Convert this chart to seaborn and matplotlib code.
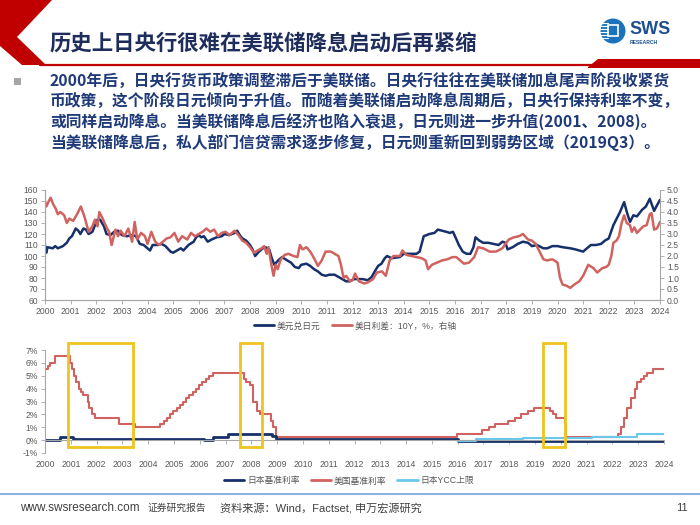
import matplotlib
matplotlib.use("Agg")
import matplotlib.pyplot as plt
import seaborn as sns
import pandas as pd
from matplotlib.patches import Polygon, Rectangle, Circle
from matplotlib.lines import Line2D
from matplotlib.ticker import FuncFormatter

sns.set_theme(style="white")
plt.rcParams['font.family'] = ['Liberation Sans', 'Noto Sans CJK SC', 'DejaVu Sans']

# ---- data: USD/JPY (left axis) ----
usd_year = [2000.0, 2000.05, 2000.1, 2000.3, 2000.4, 2000.5, 2000.7, 2000.85, 2000.95, 2001.05,
            2001.2, 2001.3, 2001.38, 2001.5, 2001.6, 2001.7, 2001.85, 2001.95, 2002.05, 2002.15,
            2002.3, 2002.4, 2002.55, 2002.7, 2002.85, 2003.0, 2003.2, 2003.4, 2003.55, 2003.7,
            2003.85, 2004.0, 2004.1, 2004.2, 2004.4, 2004.55, 2004.7, 2004.9, 2005.0, 2005.15,
            2005.3, 2005.4, 2005.6, 2005.8, 2005.9, 2006.0, 2006.1, 2006.2, 2006.35, 2006.5,
            2006.7, 2006.9, 2007.0, 2007.2, 2007.4, 2007.5, 2007.6, 2007.7, 2007.85, 2008.0,
            2008.1, 2008.2, 2008.35, 2008.5, 2008.6, 2008.75, 2008.85, 2008.95, 2009.1, 2009.25,
            2009.45, 2009.6, 2009.75, 2009.9, 2010.0, 2010.2, 2010.35, 2010.5, 2010.65, 2010.8,
            2010.95, 2011.1, 2011.3, 2011.45, 2011.6, 2011.75, 2011.9, 2012.05, 2012.4, 2012.6,
            2012.75, 2012.87, 2013.0, 2013.13, 2013.26, 2013.35, 2013.52, 2013.84, 2014.0, 2014.3,
            2014.5, 2014.62, 2014.69, 2014.78, 2015.0, 2015.2, 2015.33, 2015.66, 2015.8, 2015.92,
            2016.0, 2016.15, 2016.3, 2016.45, 2016.6, 2016.72, 2016.8, 2016.95, 2017.1, 2017.3,
            2017.5, 2017.7, 2017.85, 2017.97, 2018.05, 2018.25, 2018.45, 2018.65, 2018.85, 2019.0,
            2019.2, 2019.45, 2019.6, 2019.8, 2020.0, 2020.2, 2020.5, 2020.7, 2020.85, 2021.0,
            2021.15, 2021.3, 2021.5, 2021.7, 2021.85, 2022.0, 2022.18, 2022.31, 2022.44, 2022.6,
            2022.73, 2022.83, 2022.96, 2023.1, 2023.3, 2023.45, 2023.6, 2023.77, 2023.88, 2024.0]
usdjpy = [110, 103, 108, 107, 109, 107, 109, 112, 116, 118,
          125, 123, 120, 125, 124, 120, 122, 128, 133, 133,
          127, 120, 119, 122, 123, 119, 118, 119, 118, 111,
          110, 107, 105, 110, 110, 111, 109, 104, 103, 105,
          107, 105, 110, 113, 117, 119, 117, 118, 113, 115,
          117, 118, 120, 119, 121, 123, 119, 116, 114, 110,
          106, 100, 104, 107, 108, 106, 98, 92, 96, 99,
          96, 94, 90, 89, 92, 93, 91, 88, 86, 83,
          82, 83, 83, 81, 79, 77, 77, 79, 79, 78,
          81, 86, 91, 93, 98, 100, 98, 99, 102, 102,
          102, 104, 110, 118, 120, 121, 124, 122, 121, 122,
          118, 110, 104, 102, 102, 108, 117, 114, 112, 112,
          111, 110, 113, 112, 106, 108, 111, 113, 112, 109,
          110, 107, 107, 109, 109, 108, 107, 106, 105, 104,
          107, 110, 110, 111, 114, 116, 128, 134, 140, 149,
          138, 131, 137, 136, 142, 145, 152, 141, 146, 151]

# ---- data: US-Japan 10Y spread, % (right axis) ----
spread_year = [2000.0, 2000.05, 2000.15, 2000.22, 2000.32, 2000.42, 2000.5, 2000.6, 2000.75, 2000.85,
               2000.95, 2001.1, 2001.25, 2001.4, 2001.55, 2001.7, 2001.85, 2001.95, 2002.05, 2002.12,
               2002.25, 2002.4, 2002.5, 2002.6, 2002.75, 2002.85, 2002.95, 2003.1, 2003.25, 2003.4,
               2003.5, 2003.6, 2003.75, 2003.9, 2004.0, 2004.15, 2004.3, 2004.45, 2004.6, 2004.75,
               2004.9, 2005.05, 2005.2, 2005.35, 2005.55, 2005.7, 2005.85, 2006.0, 2006.15, 2006.3,
               2006.45, 2006.6, 2006.75, 2006.9, 2007.05, 2007.2, 2007.4, 2007.55, 2007.7, 2007.85,
               2008.0, 2008.15, 2008.3, 2008.45, 2008.55, 2008.65, 2008.72, 2008.85, 2008.92, 2009.0,
               2009.08, 2009.2, 2009.35, 2009.5, 2009.7, 2009.85, 2009.95, 2010.05, 2010.2, 2010.35,
               2010.5, 2010.65, 2010.8, 2010.95, 2011.15, 2011.3, 2011.45, 2011.55, 2011.65, 2011.75,
               2011.9, 2012.0, 2012.1, 2012.25, 2012.45, 2012.6, 2012.8, 2012.95, 2013.15, 2013.3,
               2013.45, 2013.6, 2013.85, 2013.95, 2014.1, 2014.3, 2014.5, 2014.7, 2014.85, 2014.95,
               2015.1, 2015.3, 2015.5, 2015.7, 2015.9, 2016.05, 2016.2, 2016.35, 2016.55, 2016.75,
               2016.9, 2017.1, 2017.35, 2017.6, 2017.85, 2018.0, 2018.1, 2018.3, 2018.5, 2018.65,
               2018.85, 2019.0, 2019.15, 2019.3, 2019.45, 2019.6, 2019.8, 2020.0, 2020.1, 2020.2,
               2020.35, 2020.5, 2020.65, 2020.85, 2021.0, 2021.2, 2021.4, 2021.55, 2021.75, 2021.9,
               2022.0, 2022.1, 2022.18, 2022.3, 2022.4, 2022.5, 2022.6, 2022.7, 2022.83, 2022.9,
               2023.0, 2023.1, 2023.22, 2023.35, 2023.48, 2023.6, 2023.67, 2023.77, 2023.88, 2024.0]
spread = [4.5, 4.25, 4.5, 4.65, 4.35, 4.15, 3.9, 4.0, 3.85, 3.5,
          3.7, 3.6, 3.9, 4.25, 3.75, 3.1, 3.35, 3.65, 3.35, 4.0,
          3.7, 3.3, 3.1, 2.5, 3.2, 2.9, 3.15, 2.9, 3.25, 2.65,
          3.55, 2.75, 3.05, 2.9, 2.55, 3.1, 2.65, 2.5, 2.65, 2.8,
          2.85, 3.05, 2.65, 2.9, 2.75, 3.05, 2.9, 3.0, 3.1, 3.25,
          3.1, 3.2, 2.9, 3.05, 3.1, 2.95, 3.15, 2.95, 2.7, 2.6,
          2.4, 2.15, 2.25, 2.35, 2.45, 2.1, 2.4, 1.5, 1.1, 1.6,
          1.4, 1.85, 2.05, 2.1, 2.0, 1.95, 2.5, 2.3, 2.4, 2.2,
          1.9, 1.55, 1.8, 2.2, 2.2, 2.1, 2.0, 1.6, 1.0, 1.1,
          0.85, 0.9, 1.2, 0.85, 0.75, 0.8, 0.95, 1.25, 1.3, 1.1,
          1.8, 2.0, 2.0, 2.25, 2.05, 2.0, 1.95, 1.9, 1.8, 1.4,
          1.6, 1.7, 1.8, 1.85, 1.95, 1.95, 1.8, 1.65, 1.7, 1.95,
          2.4, 2.35, 2.2, 2.2, 2.35, 2.6, 2.75, 2.85, 2.9, 3.0,
          2.75, 2.7, 2.55, 2.2, 1.85, 1.8, 1.85, 1.7, 1.0, 0.7,
          0.65, 0.55, 0.7, 0.85, 1.1, 1.6, 1.45, 1.25, 1.45, 1.5,
          1.6, 2.0, 2.6, 2.7, 2.9, 3.5, 3.85, 3.5, 3.4, 3.1,
          3.3, 3.05, 3.2, 3.35, 3.4, 3.9, 3.95, 3.2, 3.25, 3.55]

# ---- data: policy rates, % (step series) ----
us_rate_year = [2000.0, 2000.1, 2000.2, 2000.38, 2000.97, 2001.05, 2001.12, 2001.22, 2001.3, 2001.38,
                2001.48, 2001.65, 2001.72, 2001.83, 2001.93, 2002.87, 2003.48, 2004.47, 2004.6, 2004.72,
                2004.85, 2004.97, 2005.1, 2005.22, 2005.35, 2005.48, 2005.6, 2005.72, 2005.85, 2005.98,
                2006.1, 2006.23, 2006.36, 2006.5, 2007.7, 2007.8, 2007.93, 2008.05, 2008.08, 2008.22,
                2008.33, 2008.77, 2008.83, 2008.95, 2015.96, 2016.95, 2017.2, 2017.45, 2017.95, 2018.22,
                2018.45, 2018.72, 2018.97, 2019.58, 2019.7, 2019.83, 2020.17, 2020.21, 2022.21, 2022.35,
                2022.46, 2022.57, 2022.72, 2022.87, 2022.95, 2023.1, 2023.22, 2023.35, 2023.57, 2024.0]
us_rate = [5.5, 5.75, 6.0, 6.5, 6.0, 5.5, 5.0, 4.5, 4.0, 3.75,
           3.5, 3.0, 2.5, 2.0, 1.75, 1.25, 1.0, 1.25, 1.5, 1.75,
           2.0, 2.25, 2.5, 2.75, 3.0, 3.25, 3.5, 3.75, 4.0, 4.25,
           4.5, 4.75, 5.0, 5.25, 4.75, 4.5, 4.25, 3.5, 3.0, 2.25,
           2.0, 1.5, 1.0, 0.25, 0.5, 0.75, 1.0, 1.25, 1.5, 1.75,
           2.0, 2.25, 2.5, 2.25, 2.0, 1.75, 1.25, 0.25, 0.5, 1.0,
           1.75, 2.5, 3.25, 4.0, 4.5, 4.75, 5.0, 5.25, 5.5, 5.5]

jp_rate_year = [2000.0, 2000.6, 2001.1, 2006.15, 2006.5, 2007.1, 2008.8, 2008.95, 2016.0, 2024.0]
jp_rate = [0.0, 0.25, 0.12, 0.0, 0.25, 0.5, 0.3, 0.1, -0.1, -0.1]

ycc_year = [2016.0, 2016.7, 2018.55, 2021.2, 2022.95, 2024.0]
ycc_cap = [-0.05, 0.05, 0.2, 0.25, 0.5, 0.5]

# Fed-cut windows highlighted in yellow (start, end)
highlight_periods = [(2000.88, 2003.4), (2007.56, 2008.41), (2019.31, 2020.16)]

title = "历史上日央行很难在美联储降息启动后再紧缩"
body_lines = [
    "2000年后，日央行货币政策调整滞后于美联储。日央行往往在美联储加息尾声阶段收紧货",
    "币政策，这个阶段日元倾向于升值。而随着美联储启动降息周期后，日央行保持利率不变，",
    "或同样启动降息。当美联储降息后经济也陷入衰退，日元则进一步升值(2001、2008)。",
    "当美联储降息后，私人部门信贷需求逐步修复，日元则重新回到弱势区域（2019Q3）。",
]
years = list(range(2000, 2025))

NAVY = '#15306A'
RED = '#D0625F'
LIGHT_BLUE = '#6CC8EA'
YELLOW = '#EEC41E'
GRAY = '#595959'
AXIS = '#A6A6A6'
TEXT_BLUE = '#1F3A78'
CJK = ['Noto Sans CJK SC', 'DejaVu Sans']

fig = plt.figure(figsize=(7, 5.25), dpi=100)

# background layer in pixel coordinates
bg = fig.add_axes([0, 0, 1, 1], zorder=-1)
bg.set_xlim(0, 700)
bg.set_ylim(525, 0)
bg.axis('off')

# header decoration
bg.add_patch(Polygon([(0, 0), (52, 0), (17, 37), (46, 65), (22, 65), (0, 46)], closed=True,
                     fc='#C00000', ec='none'))
bg.plot([40, 592], [65, 65], color='#C00000', lw=1.6)
bg.add_patch(Polygon([(588, 67), (598, 59), (700, 59), (700, 68), (588, 68)], closed=True,
                     fc='#C00000', ec='none'))
bg.text(50, 43, title, fontsize=15.4, weight='bold', color='#1F2D5C', family=CJK, va='center')

# logo
bg.add_patch(Circle((613, 31), 12.5, fc='#1B74BB', ec='none'))
for yy in [23, 26, 29, 32, 35, 38]:
    bg.plot([600, 608], [yy, yy], color='white', lw=0.8)
bg.add_patch(Rectangle((608, 25), 10, 11, fc='none', ec='white', lw=1.2))
bg.text(629, 30, "SWS", fontsize=13, weight='bold', color='#1D4F91', va='center',
        family=['Liberation Sans'])
bg.text(630, 43, "RESEARCH", fontsize=3.6, weight='bold', color='#1D4F91', va='center',
        family=['Liberation Sans'])

# bullet text
bg.add_patch(Rectangle((14, 78), 7, 7, fc='#A6A6A6', ec='none'))
for i, line in enumerate(body_lines):
    bg.text(50, 82 + i * 20.3, line, fontsize=11.35, weight='bold', color=TEXT_BLUE,
            family=CJK, va='center')

# footer
bg.plot([0, 700], [494, 494], color='#8DB3E2', lw=1.5)
bg.text(20, 508, "www.swsresearch.com", fontsize=8.5, color='#404040', va='center')
bg.text(148, 508, "证券研究报告", fontsize=7, color='#404040', va='center', family=CJK)
bg.text(220, 508, "资料来源：Wind，Factset, 申万宏源研究", fontsize=8, color='#404040',
        va='center', family=['Liberation Sans', 'Noto Sans CJK SC'])
bg.text(676, 508, "11", fontsize=8, color='#404040', va='center')

# ---- top chart ----
ax1 = fig.add_axes([45 / 700, 1 - 300 / 525, 615 / 700, 110 / 525])
usd_df = pd.DataFrame({'year': usd_year, 'value': usdjpy})
sns.lineplot(data=usd_df, x='year', y='value', ax=ax1, color=NAVY, lw=1.8)
ax1.set_xlim(2000, 2024)
ax1.set_ylim(60, 160)
ax1.set_yticks(range(60, 161, 10))
ax1.set_xticks(years)
ax1.set_xlabel('')
ax1.set_ylabel('')

ax1r = ax1.twinx()
spread_df = pd.DataFrame({'year': spread_year, 'value': spread})
sns.lineplot(data=spread_df, x='year', y='value', ax=ax1r, color=RED, lw=1.8)
ax1r.set_ylim(0, 5)
ax1r.set_yticks([x / 2 for x in range(11)])
ax1r.yaxis.set_major_formatter(FuncFormatter(lambda v, p: f"{v:.1f}"))
ax1r.set_ylabel('')
ax1r.set_xlim(2000, 2024)

for a in (ax1, ax1r):
    for s in a.spines.values():
        s.set_color(AXIS)
        s.set_linewidth(0.8)
    a.spines['top'].set_visible(False)
    a.tick_params(axis='both', length=3, width=0.6, color=AXIS, labelsize=6.2,
                  labelcolor=GRAY, pad=2)
ax1.spines['right'].set_visible(False)
ax1.tick_params(bottom=True, left=True)
ax1r.tick_params(right=True)

top_handles = [Line2D([], [], color=NAVY, lw=2), Line2D([], [], color=RED, lw=2)]
fig.legend(top_handles, ['美元兑日元', '美日利差：10Y，%，右轴'], loc='center',
           bbox_to_anchor=(355 / 700, 1 - 326 / 525), ncol=2, frameon=False, fontsize=6.3,
           handlelength=2.3, columnspacing=1.3, handletextpad=0.3, labelcolor=GRAY)

# ---- bottom chart ----
ax2 = fig.add_axes([45 / 700, 1 - 453 / 525, 619 / 700, 103 / 525])
us_df = pd.DataFrame({'year': us_rate_year, 'rate': us_rate})
jp_df = pd.DataFrame({'year': jp_rate_year, 'rate': jp_rate})
ycc_df = pd.DataFrame({'year': ycc_year, 'rate': ycc_cap})
sns.lineplot(data=us_df, x='year', y='rate', ax=ax2, color=RED, lw=1.5, drawstyle='steps-post')
sns.lineplot(data=jp_df, x='year', y='rate', ax=ax2, color=NAVY, lw=2.0, drawstyle='steps-post')
sns.lineplot(data=ycc_df, x='year', y='rate', ax=ax2, color=LIGHT_BLUE, lw=1.5,
             drawstyle='steps-post')
ax2.set_xlim(2000, 2024)
ax2.set_ylim(-1, 7)
ax2.set_yticks(range(-1, 8))
ax2.yaxis.set_major_formatter(FuncFormatter(lambda v, p: f"{v:.0f}%"))
ax2.set_xticks(years)
ax2.set_xlabel('')
ax2.set_ylabel('')
ax2.spines['bottom'].set_position(('data', 0))
ax2.spines['top'].set_visible(False)
ax2.spines['right'].set_visible(False)
for s in ('left', 'bottom'):
    ax2.spines[s].set_color(AXIS)
    ax2.spines[s].set_linewidth(0.8)
ax2.tick_params(axis='both', length=3, width=0.6, color=AXIS, labelsize=6.2,
                labelcolor=GRAY, bottom=True, left=True, pad=2)
ax2.tick_params(axis='x', pad=11)

for start, end in highlight_periods:
    ax2.add_patch(Rectangle((start, -0.57), end - start, 8.09, fill=False, ec=YELLOW,
                            lw=2, clip_on=False, zorder=5))

bot_handles = [Line2D([], [], color=NAVY, lw=2), Line2D([], [], color=RED, lw=2),
               Line2D([], [], color=LIGHT_BLUE, lw=2)]
fig.legend(bot_handles, ['日本基准利率', '美国基准利率', '日本YCC上限'], loc='center',
           bbox_to_anchor=(349 / 700, 1 - 481 / 525), ncol=3, frameon=False, fontsize=6.3,
           handlelength=2.3, columnspacing=1.3, handletextpad=0.3, labelcolor=GRAY)

fig.savefig('out.png', dpi=100)
